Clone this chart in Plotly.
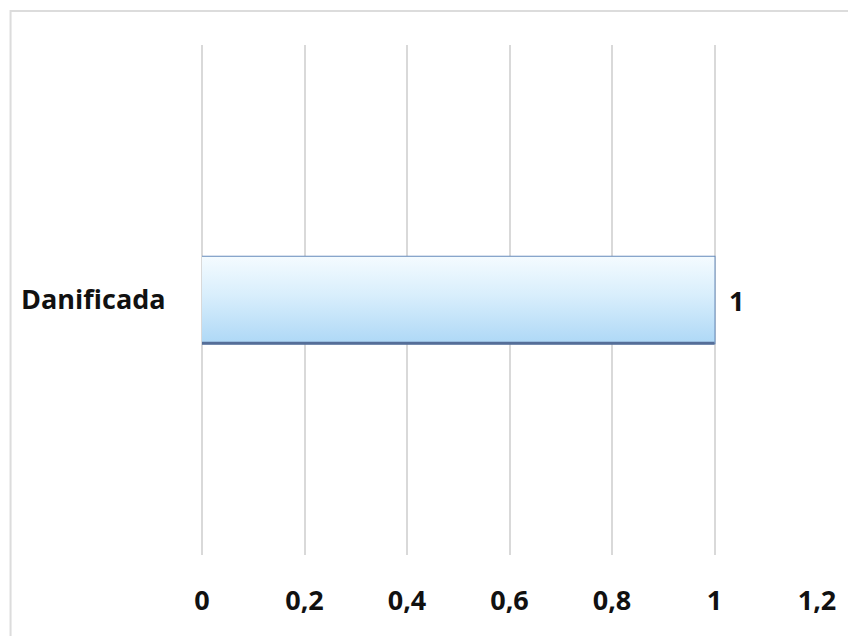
import plotly.graph_objects as go

# Chart data
categories = ["Danificada"]
values = [1]
tick_vals = [0, 0.2, 0.4, 0.6, 0.8, 1, 1.2]
tick_text = ["0", "0,2", "0,4", "0,6", "0,8", "1", "1,2"]

FONT = "Open Sans"
FS = 27
W, H = 848, 636
L, R, T, B = 202, 26, 45, 81
pw, ph = W - L - R, H - T - B
BAR_W = 0.17

fig = go.Figure()

# gradient body of each bar, built from its value and category slot
for i, v in enumerate(values):
    fig.add_trace(go.Scatter(
        x=[0, v, v, 0, 0],
        y=[i - BAR_W / 2, i - BAR_W / 2, i + BAR_W / 2, i + BAR_W / 2, i - BAR_W / 2],
        mode="lines",
        line=dict(width=0),
        fill="toself",
        fillgradient=dict(
            type="vertical",
            colorscale=[[0, "#aed8f6"], [0.55, "#d8eefc"], [1, "#f4fbff"]],
        ),
        hoverinfo="skip",
    ))

fig.add_trace(go.Bar(
    x=values,
    y=list(range(len(categories))),
    width=BAR_W,
    orientation="h",
    marker=dict(color="rgba(0,0,0,0)", line=dict(color="#6489ba", width=2)),
    hoverinfo="skip",
))

# darker lower edge giving the bar a slight shadow
for i, v in enumerate(values):
    fig.add_trace(go.Scatter(
        x=[0, v], y=[i - BAR_W / 2, i - BAR_W / 2],
        mode="lines",
        line=dict(color="#556e98", width=3),
        hoverinfo="skip",
    ))
    fig.add_annotation(
        x=v, y=i, text=str(v), showarrow=False,
        xanchor="left", xshift=12,
        font=dict(family=FONT, size=FS, color="#111111", weight="bold"),
    )

def px_x(p):
    return (p - L) / pw

def px_y(p):
    return (H - B - p) / ph

fig.update_layout(
    width=W,
    height=H,
    margin=dict(l=L, r=R, t=T, b=B),
    paper_bgcolor="white",
    plot_bgcolor="white",
    showlegend=False,
    font=dict(family=FONT, size=FS, color="#111111", weight="bold"),
    xaxis=dict(
        range=[0, 1.2],
        tickvals=tick_vals,
        ticktext=tick_text,
        showgrid=True,
        gridcolor="#d9d9d9",
        gridwidth=2,
        zeroline=True,
        zerolinecolor="#d9d9d9",
        zerolinewidth=2,
        showline=False,
        ticks="outside",
        ticklen=22,
        tickcolor="rgba(0,0,0,0)",
        tickfont=dict(family=FONT, size=FS, color="#111111", weight="bold"),
    ),
    yaxis=dict(
        range=[-0.5, 0.5],
        tickvals=list(range(len(categories))),
        ticktext=categories,
        showgrid=False,
        zeroline=False,
        showline=False,
        ticks="outside",
        ticklen=30,
        tickcolor="rgba(0,0,0,0)",
        tickfont=dict(family=FONT, size=FS, color="#111111", weight="bold"),
    ),
    shapes=[dict(
        type="rect",
        xref="paper", yref="paper",
        x0=px_x(9), x1=px_x(870),
        y0=px_y(660), y1=px_y(11),
        line=dict(color="#dcdcdc", width=2),
        fillcolor="rgba(0,0,0,0)",
        layer="below",
    )],
)

fig.write_html("out.html")
